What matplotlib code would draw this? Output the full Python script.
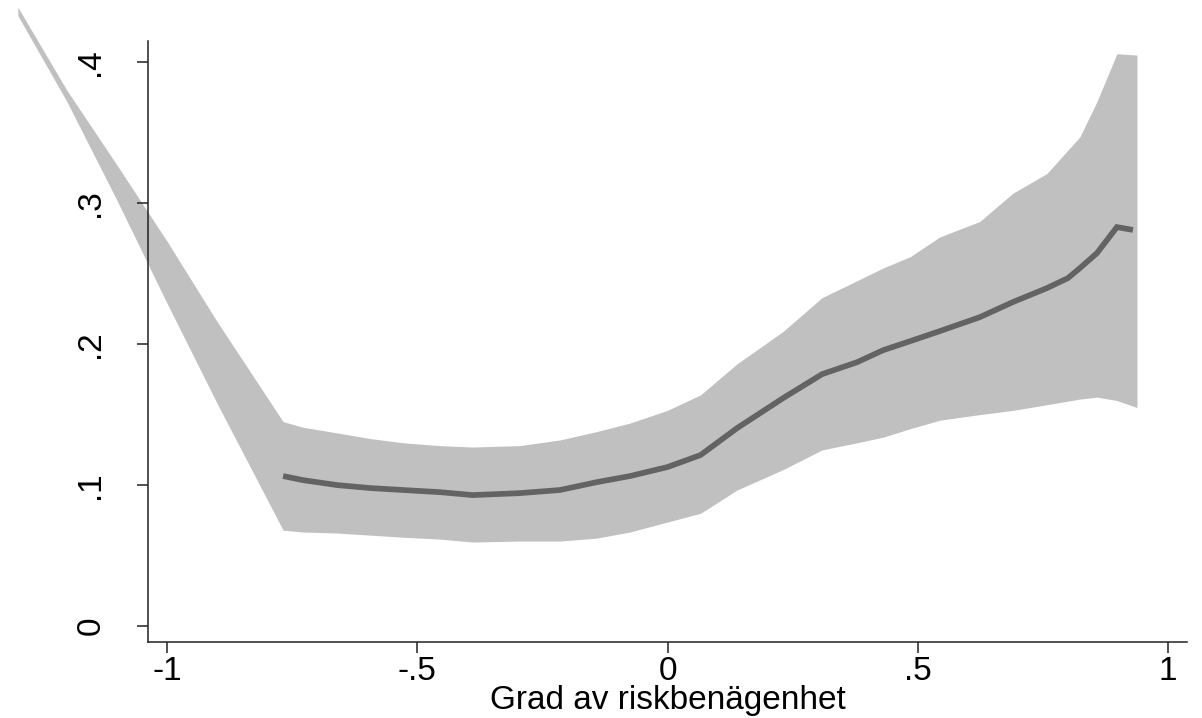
import matplotlib
matplotlib.use("Agg")
import matplotlib.pyplot as plt

plt.rcParams['font.family'] = ['Liberation Sans', 'DejaVu Sans']

# CI band (x, upper, lower)
band_x = [-1.298, -1.200, -1.100, -1.000, -0.900, -0.768, -0.728, -0.660, -0.594,
          -0.528, -0.455, -0.389, -0.295, -0.215, -0.141, -0.075, 0.000, 0.066,
          0.139, 0.231, 0.309, 0.379, 0.431, 0.485, 0.544, 0.624, 0.690, 0.758,
          0.824, 0.858, 0.898, 0.938]
band_upper = [0.439, 0.380, 0.327, 0.273, 0.216, 0.145, 0.141, 0.137, 0.133,
              0.130, 0.128, 0.127, 0.128, 0.132, 0.138, 0.144, 0.153, 0.164,
              0.186, 0.209, 0.233, 0.245, 0.254, 0.262, 0.276, 0.287, 0.307, 0.321,
              0.347, 0.372, 0.406, 0.405]
band_lower = [0.433, 0.372, 0.302, 0.229, 0.158, 0.068, 0.0667, 0.066, 0.0645,
              0.063, 0.0617, 0.0596, 0.0603, 0.0603, 0.0624, 0.0667, 0.0738, 0.080,
              0.0965, 0.111, 0.125, 0.130, 0.134, 0.140, 0.146, 0.150, 0.153, 0.157,
              0.161, 0.1624, 0.160, 0.155]

# Fitted line
line_x = [-0.768, -0.728, -0.660, -0.594, -0.528, -0.455, -0.389, -0.295, -0.215,
          -0.141, -0.075, 0.000, 0.066, 0.139, 0.231, 0.309, 0.379, 0.431, 0.485,
          0.544, 0.624, 0.690, 0.758, 0.800, 0.824, 0.858, 0.898, 0.930]
line_y = [0.1064, 0.1035, 0.1000, 0.0979, 0.0965, 0.0950, 0.0929, 0.0943, 0.0965,
          0.1021, 0.1064, 0.1128, 0.1213, 0.1404, 0.1617, 0.1787, 0.1872, 0.1957,
          0.2021, 0.2092, 0.2191, 0.2298, 0.2397, 0.2468, 0.2539, 0.2645, 0.2830,
          0.2810]

xticks = [-1, -0.5, 0, 0.5, 1]
xticklabels = ["-1", "-.5", "0", ".5", "1"]
yticks = [0, 0.1, 0.2, 0.3, 0.4]
yticklabels = ["0", ".1", ".2", ".3", ".4"]
xlabel = "Grad av riskbenägenhet"

fig = plt.figure(figsize=(12.02, 7.18), dpi=100)
ax = fig.add_axes([148/1202, 1-642/718, (1187-148)/1202, (642-41)/718])

ax.fill_between(band_x, band_lower, band_upper, color='#c0c0c0', linewidth=0,
                clip_on=False, zorder=1)
ax.plot(line_x, line_y, color='#636363', linewidth=4.1, solid_capstyle='butt',
        solid_joinstyle='miter', zorder=2)

ax.set_xlim(-1.038, 1.038)
ax.set_ylim(-0.0113, 0.415)

for s in ['top', 'right']:
    ax.spines[s].set_visible(False)
for s in ['left', 'bottom']:
    ax.spines[s].set_color('#222222')
    ax.spines[s].set_linewidth(1.1)

ax.set_xticks(xticks)
ax.set_xticklabels(xticklabels)
ax.set_yticks(yticks)
ax.set_yticklabels(yticklabels)
ax.tick_params(axis='both', length=8, width=1.1, color='#222222', labelsize=24)
ax.tick_params(axis='x', pad=2)
ax.tick_params(axis='y', pad=22)
for lab in ax.get_yticklabels():
    lab.set_rotation(90)
    lab.set_va('center')
    lab.set_ha('right')

ax.set_xlabel(xlabel, fontsize=24, labelpad=-1)

fig.savefig("out.png", dpi=100, facecolor='white')
